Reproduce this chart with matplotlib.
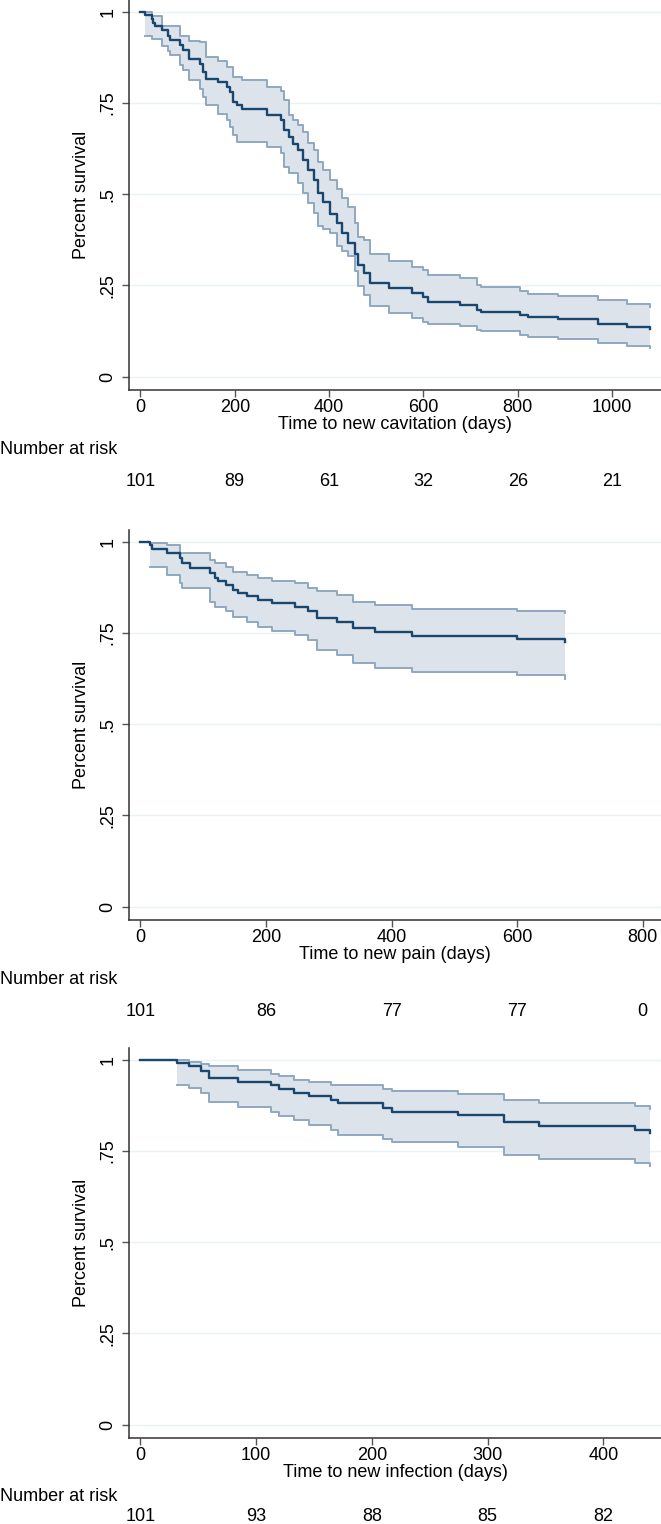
import matplotlib
matplotlib.use("Agg")
import matplotlib.pyplot as plt
import matplotlib.transforms as mtransforms

plt.rcParams['font.family'] = ['Liberation Sans', 'DejaVu Sans']

# --- Panel 1: new cavitation ---
cav_t = [0, 10, 24, 27, 31, 45, 59, 63, 84, 91, 102, 126, 133, 140, 165, 183, 190, 197,
         204, 215, 268, 299, 305, 314, 324, 335, 345, 356, 367, 377, 388, 402, 416, 427,
         441, 455, 462, 473, 487, 526, 575, 600, 610, 678, 713, 723, 805, 822, 886, 971,
         1031, 1080]
cav_s = [1.0, 0.99, 0.98, 0.97, 0.96, 0.95, 0.934, 0.923, 0.909, 0.895, 0.871, 0.857, 0.834,
         0.816, 0.807, 0.793, 0.780, 0.752, 0.743, 0.734, 0.716, 0.702, 0.675, 0.657, 0.638,
         0.620, 0.593, 0.566, 0.538, 0.502, 0.479, 0.447, 0.420, 0.393, 0.365, 0.335, 0.306,
         0.283, 0.256, 0.242, 0.229, 0.219, 0.206, 0.197, 0.182, 0.178, 0.169, 0.163, 0.158,
         0.145, 0.137, 0.130]
cav_lo = [1.0, 0.934, 0.925, 0.925, 0.925, 0.907, 0.893, 0.880, 0.853, 0.839, 0.812, 0.789,
          0.766, 0.745, 0.721, 0.702, 0.684, 0.661, 0.643, 0.643, 0.630, 0.612, 0.575, 0.557,
          0.557, 0.530, 0.502, 0.475, 0.448, 0.412, 0.405, 0.393, 0.357, 0.345, 0.330, 0.290,
          0.248, 0.225, 0.195, 0.175, 0.160, 0.151, 0.144, 0.140, 0.128, 0.124, 0.115, 0.110,
          0.103, 0.092, 0.084, 0.079]
cav_hi = [1.0, 1.0, 0.989, 0.989, 0.989, 0.962, 0.962, 0.962, 0.934, 0.934, 0.921, 0.916,
          0.916, 0.875, 0.866, 0.848, 0.848, 0.821, 0.821, 0.812, 0.793, 0.784, 0.757, 0.716,
          0.702, 0.690, 0.670, 0.640, 0.620, 0.588, 0.565, 0.540, 0.513, 0.490, 0.466, 0.420,
          0.384, 0.375, 0.337, 0.316, 0.301, 0.292, 0.279, 0.270, 0.250, 0.247, 0.236, 0.226,
          0.222, 0.209, 0.199, 0.192]
cav_ticks = [0, 200, 400, 600, 800, 1000]
cav_risk = [101, 89, 61, 32, 26, 21]

# --- Panel 2: new pain ---
pain_t = [0, 15, 18, 42, 63, 66, 79, 111, 119, 124, 137, 148, 156, 169, 188, 209, 246, 267,
          281, 313, 339, 374, 433, 600, 676]
pain_s = [1.0, 0.990, 0.980, 0.969, 0.955, 0.941, 0.929, 0.914, 0.900, 0.891, 0.882, 0.868,
          0.859, 0.850, 0.841, 0.832, 0.821, 0.809, 0.790, 0.781, 0.763, 0.752, 0.742, 0.733,
          0.726]
pain_lo = [1.0, 0.932, 0.932, 0.909, 0.887, 0.873, 0.873, 0.836, 0.822, 0.822, 0.809, 0.795,
           0.795, 0.781, 0.767, 0.754, 0.745, 0.731, 0.703, 0.690, 0.667, 0.655, 0.644, 0.635,
           0.625]
pain_hi = [1.0, 0.996, 0.996, 0.992, 0.969, 0.969, 0.969, 0.951, 0.941, 0.941, 0.932, 0.918,
           0.918, 0.909, 0.900, 0.891, 0.887, 0.873, 0.864, 0.854, 0.836, 0.826, 0.816, 0.809,
           0.804]
pain_ticks = [0, 200, 400, 600, 800]
pain_risk = [101, 86, 77, 77, 0]

# --- Panel 3: new infection ---
inf_t = [0, 32, 42, 52, 59, 84, 113, 120, 133, 146, 165, 171, 210, 217, 274, 314, 344, 427, 440]
inf_s = [1.0, 0.991, 0.982, 0.969, 0.949, 0.939, 0.930, 0.919, 0.909, 0.900, 0.890, 0.880,
         0.868, 0.858, 0.849, 0.829, 0.817, 0.808, 0.800]
inf_lo = [1.0, 0.931, 0.922, 0.909, 0.884, 0.870, 0.858, 0.846, 0.834, 0.820, 0.808, 0.795,
          0.783, 0.774, 0.761, 0.738, 0.729, 0.717, 0.710]
inf_hi = [1.0, 1.0, 0.995, 0.989, 0.982, 0.973, 0.960, 0.954, 0.945, 0.939, 0.931, 0.931,
          0.920, 0.914, 0.907, 0.890, 0.881, 0.872, 0.866]
inf_ticks = [0, 100, 200, 300, 400]
inf_risk = [101, 93, 88, 85, 82]

panels = [
    (cav_t, cav_s, cav_lo, cav_hi, cav_ticks, cav_risk, "Time to new cavitation (days)", (-24.2, 1103.6)),
    (pain_t, pain_s, pain_lo, pain_hi, pain_ticks, pain_risk, "Time to new pain (days)", (-18.2, 829)),
    (inf_t, inf_s, inf_lo, inf_hi, inf_ticks, inf_risk, "Time to new infection (days)", (-9.8, 449.7)),
]
# pixel top of each plot region, and pixel offsets of the risk table rows below it
tops = [0, 530, 1048]
nar_off = [60, 60, 59]
num_off = [92, 92, 79]
ax_h = 389.5

W, H = 661, 1524
fig = plt.figure(figsize=(W / 100, H / 100), dpi=100)
fs = 13

line_c = '#1a476f'
band_c = '#dde3ea'
edge_c = '#8fa8c0'
grid_c = '#eaf2f3'
axis_c = '#333333'

for (t, s, lo, hi, ticks, risk, xlab, xl), top, no, mo in zip(panels, tops, nar_off, num_off):
    ax = fig.add_axes([129 / W, 1 - (top + ax_h) / H, (W - 129) / W, ax_h / H])
    ax.fill_between(t[1:], lo[1:], hi[1:], step='post', color=band_c, lw=0, zorder=1)
    ax.step(t[1:], lo[1:], where='post', color=edge_c, lw=1.4, zorder=2)
    ax.step(t[1:], hi[1:], where='post', color=edge_c, lw=1.4, zorder=2)
    ax.step(t, s, where='post', color=line_c, lw=1.7, zorder=3)

    ax.set_xlim(*xl)
    ax.set_ylim(-0.035, 1.032)
    ax.set_yticks([0, 0.25, 0.5, 0.75, 1])
    ax.set_yticklabels(['0', '.25', '.5', '.75', '1'], rotation=90, va='center')
    ax.set_xticks(ticks)
    ax.set_xticklabels([str(v) for v in ticks])
    ax.grid(axis='y', color=grid_c, lw=1.0, zorder=0)
    ax.set_axisbelow(True)
    for side in ['top', 'right']:
        ax.spines[side].set_visible(False)
    for side in ['left', 'bottom']:
        ax.spines[side].set_color(axis_c)
        ax.spines[side].set_linewidth(1.1)
    ax.tick_params(direction='out', length=5, width=1, color='#555555', labelsize=fs, pad=1.5)
    ax.tick_params(axis='y', pad=4)
    ax.set_xlabel(xlab, fontsize=fs, labelpad=0)
    ax.set_ylabel("Percent survival", fontsize=fs, labelpad=7)

    trans = mtransforms.blended_transform_factory(ax.transData, fig.transFigure)
    fig.text(0.0, 1 - (top + ax_h + no) / H, "Number at risk", fontsize=fs, ha='left', va='center')
    for xv, r in zip(ticks, risk):
        ax.text(xv, 1 - (top + ax_h + mo) / H, str(r), transform=trans, fontsize=fs,
                ha='center', va='center')

fig.savefig("out.png", dpi=100)
